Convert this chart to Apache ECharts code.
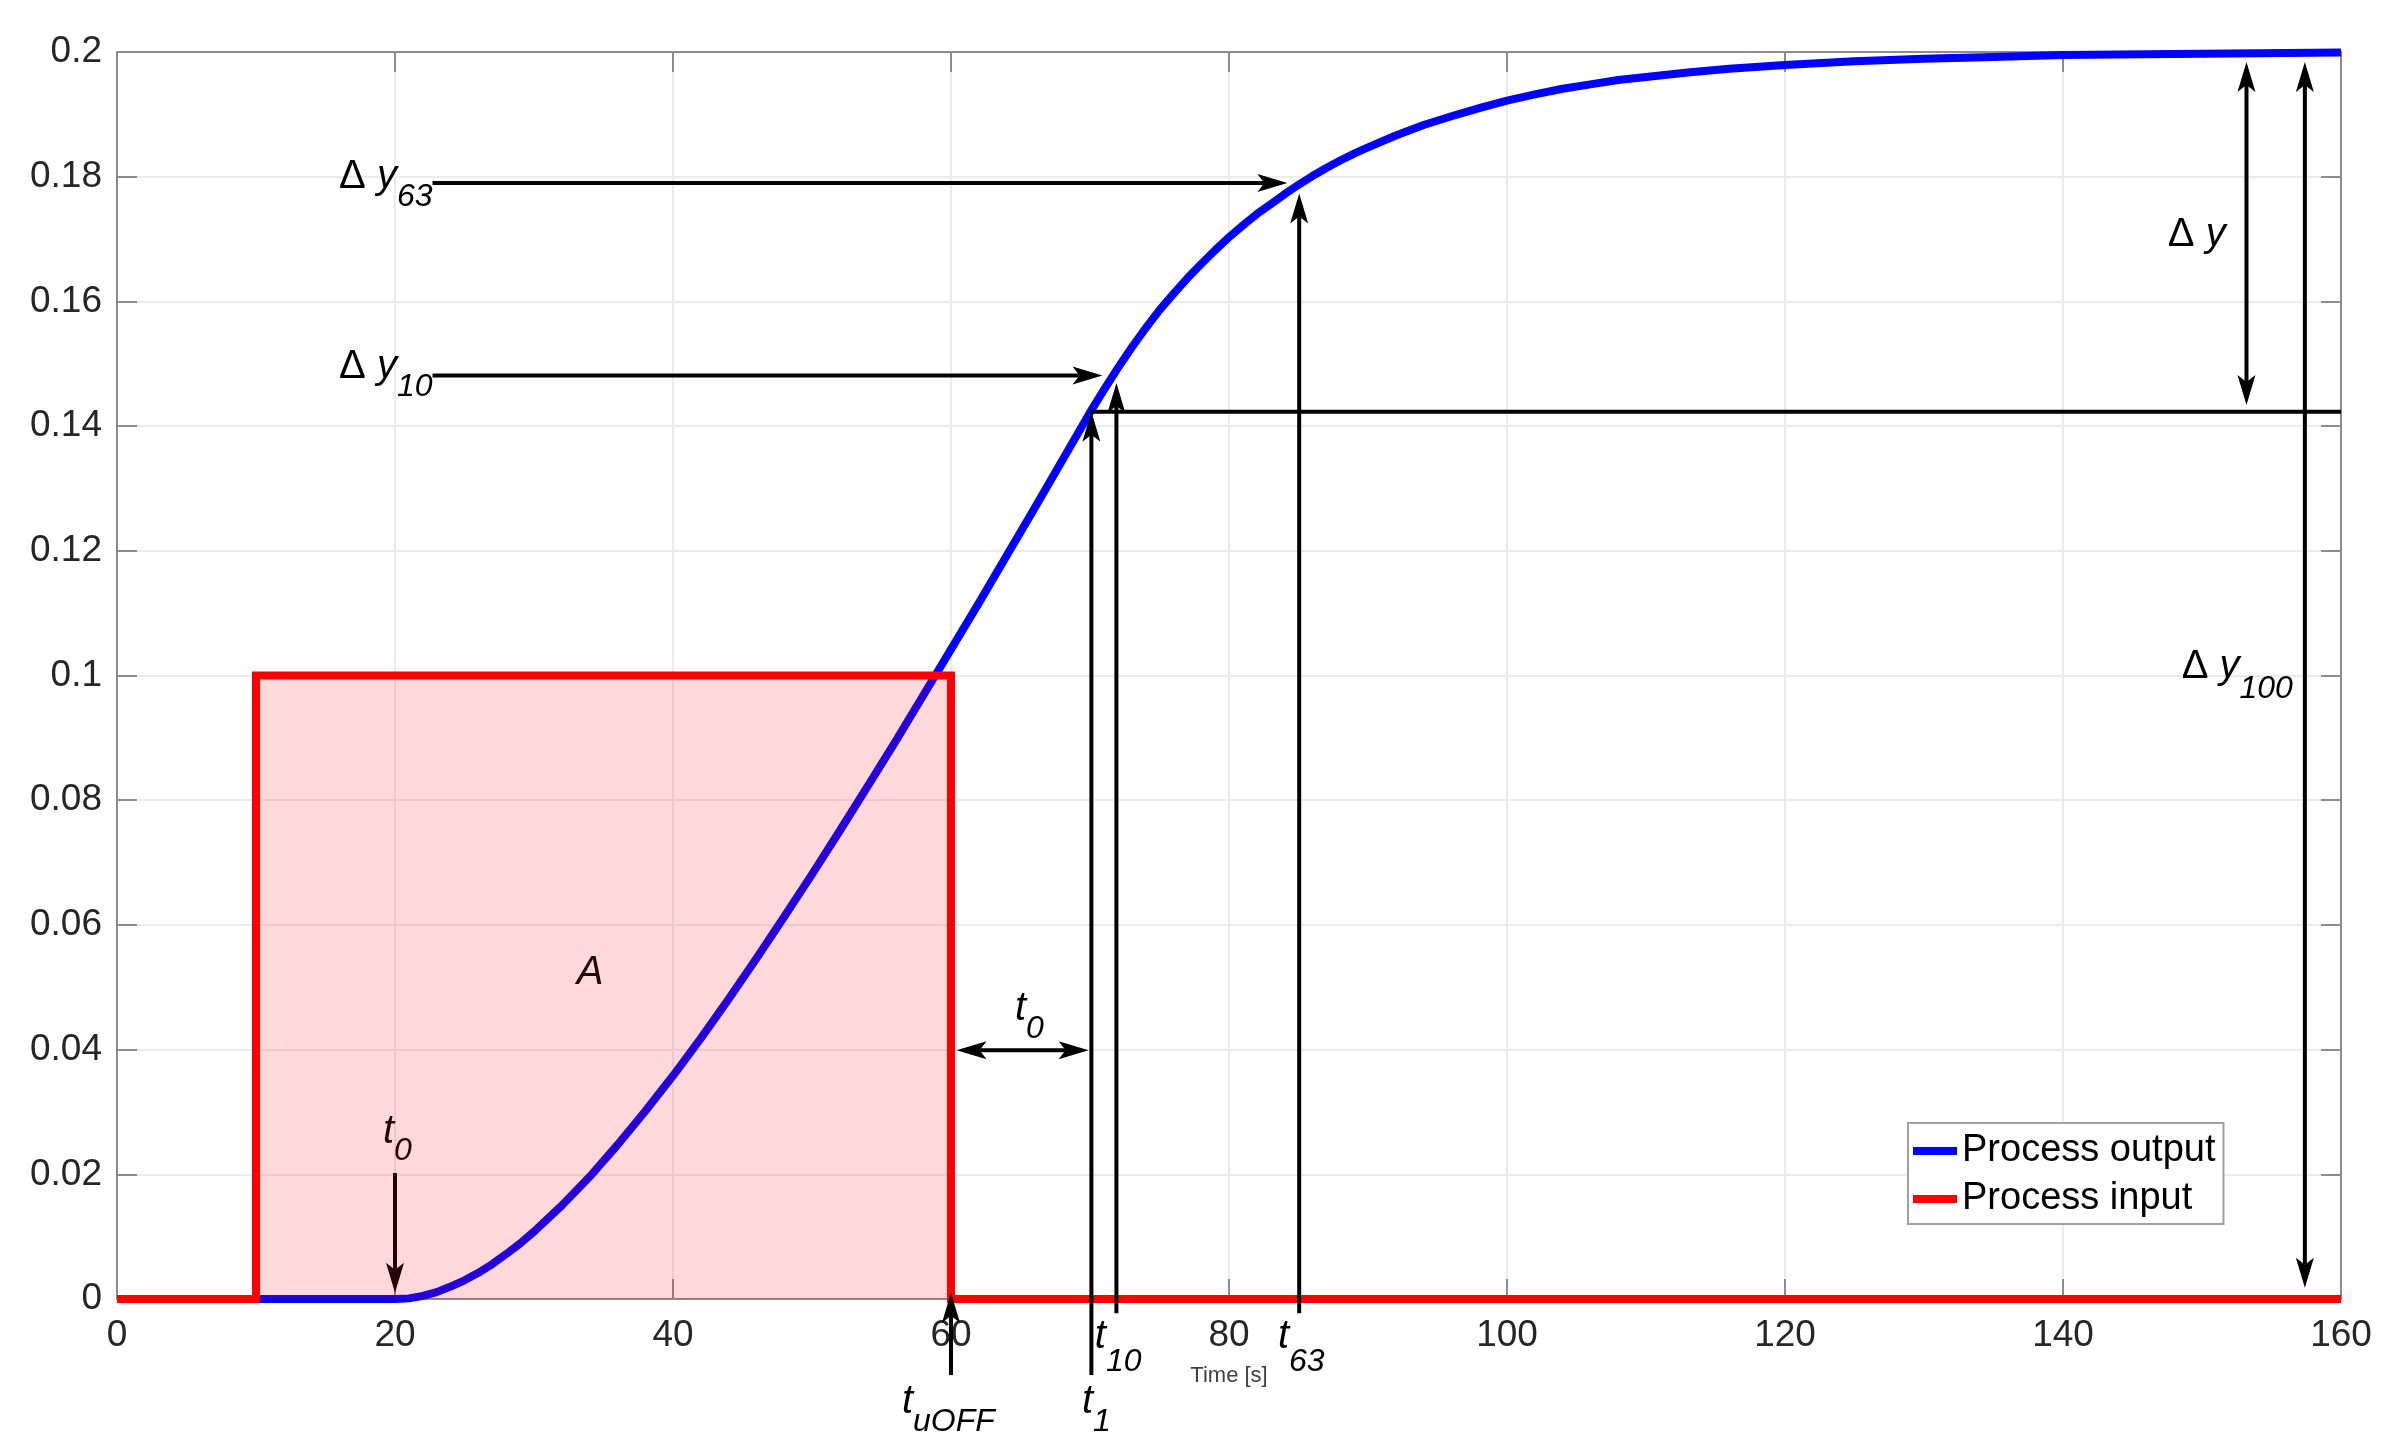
<!DOCTYPE html>
<html><head><meta charset="utf-8">
<script src="https://cdn.jsdelivr.net/npm/echarts@6/dist/echarts.min.js"></script>
<style>html,body{margin:0;padding:0;background:#fff}#c{width:2392px;height:1456px}</style>
</head><body><div id="c"></div>
<script>
// ---- data ----
const xTickLabels = ['0','20','40','60','80','100','120','140','160'];
const yTickLabels = ['0','0.02','0.04','0.06','0.08','0.1','0.12','0.14','0.16','0.18','0.2'];
const outputTime = [0,10,20,21,22,23,24,25,26,27,28,29,30,32,34,36,38,40,42,44,46,48,50,52,54,56,58,60,62,64,66,68,70,71,72,73,74,75,76,77,78,79,80,81,82,83,84,85,86,87,88,89,90,92,94,96,98,100,102,104,106,108,110,113,116,120,125,130,135,140,150,160];
const outputValue = [0,0,0,0.0001,0.0005,0.0011,0.002,0.003,0.0042,0.0056,0.0072,0.0089,0.0108,0.015,0.0196,0.0247,0.0301,0.0358,0.0418,0.0481,0.0546,0.0613,0.0681,0.0751,0.0822,0.0894,0.0968,0.1042,0.1116,0.1192,0.1268,0.1345,0.1422,0.1458,0.1493,0.1526,0.1557,0.1586,0.1612,0.1637,0.166,0.1682,0.1703,0.1722,0.174,0.1756,0.1772,0.1787,0.1801,0.1814,0.1826,0.1837,0.1847,0.1866,0.1883,0.1897,0.191,0.1922,0.1932,0.1941,0.1948,0.1955,0.196,0.1967,0.1973,0.1979,0.1985,0.1989,0.1992,0.1995,0.1997,0.1999];
const inputTime = [0,10,10,60,60,160];
const inputValue = [0,0,0.1,0.1,0,0];
const areaTime = [10,10,60,60];
const areaValue = [0,0.1,0.1,0];

// annotation arrows, in data units
const arrows = [
  {from:[22.7,0.179], to:[84.2,0.179], heads:'end'},
  {from:[22.7,0.1481], to:[70.9,0.1481], heads:'end'},
  {from:[70.1,-0.0122], to:[70.1,0.1423], heads:'end'},
  {from:[71.9,-0.0023], to:[71.9,0.1469], heads:'end'},
  {from:[85.05,-0.0023], to:[85.05,0.1773], heads:'end'},
  {from:[60,-0.0122], to:[60,0.001], heads:'end'},
  {from:[60.4,0.0399], to:[69.9,0.0399], heads:'both'},
  {from:[20,0.0202], to:[20,0.001], heads:'end', under:true},
  {from:[70,0.1423], to:[160,0.1423], heads:'none'},
  {from:[153.2,0.1434], to:[153.2,0.1984], heads:'both'},
  {from:[157.4,0.0018], to:[157.4,0.1984], heads:'both'}
];
// annotation labels: junction point (data units) between base and subscript
const labels = [
  {base:'delta', sub:'63', x:20.14, y:0.1800, sy:0.1767},
  {base:'delta', sub:'10', x:20.14, y:0.1495, sy:0.1463},
  {base:'delta', sub:'', x:151.7, y:0.1707, sy:0},
  {base:'delta', sub:'100', x:152.7, y:0.1014, sy:0.0978},
  {base:'t', sub:'0', x:19.93, y:0.0268, sy:0.0237, under:true},
  {base:'t', sub:'0', x:65.4, y:0.0466, sy:0.0433},
  {base:'t', sub:'uOFF', x:57.27, y:-0.01647, sy:-0.0197},
  {base:'t', sub:'1', x:70.22, y:-0.01647, sy:-0.0197},
  {base:'t', sub:'10', x:71.15, y:-0.00605, sy:-0.0101},
  {base:'t', sub:'63', x:84.32, y:-0.00605, sy:-0.0101},
  {base:'A', sub:'', x:34.03, y:0.0523, sy:0, center:true, under:true}
];

const FONT = '"Liberation Sans", Arial, Helvetica, sans-serif';
const zip = (a,b) => a.map((v,i)=>[v,b[i]]);
const fmtX = v => xTickLabels[Math.round(v/20)] ?? '';
const fmtY = v => yTickLabels[Math.round(v/0.02)] ?? '';
const axisGray = '#8c8c8c';

const chart = echarts.init(document.getElementById('c'));
const option = {
  animation: false,
  backgroundColor: '#fff',
  grid: {left:117, right:51, top:52, bottom:157, containLabel:false},
  xAxis: [
    {type:'value', min:0, max:160, interval:20, position:'bottom',
     axisLine:{show:true, onZero:false, lineStyle:{color:axisGray, width:2}},
     axisTick:{show:true, inside:true, length:20, lineStyle:{color:axisGray, width:2}},
     axisLabel:{fontSize:37, color:'#262626', fontFamily:FONT, margin:18, formatter:fmtX},
     splitLine:{show:true, lineStyle:{color:'#ebebeb', width:2}},
     name:'Time [s]', nameLocation:'middle', nameGap:66,
     nameTextStyle:{fontSize:22, color:'#404040', fontFamily:FONT}},
    {type:'value', min:0, max:160, interval:20, position:'top',
     axisLine:{show:true, onZero:false, lineStyle:{color:axisGray, width:2}},
     axisTick:{show:true, inside:true, length:20, lineStyle:{color:axisGray, width:2}},
     axisLabel:{show:false}, splitLine:{show:false}}
  ],
  yAxis: [
    {type:'value', min:0, max:0.2, interval:0.02, position:'left',
     axisLine:{show:true, onZero:false, lineStyle:{color:axisGray, width:2}},
     axisTick:{show:true, inside:true, length:20, lineStyle:{color:axisGray, width:2}},
     axisLabel:{fontSize:37, color:'#262626', fontFamily:FONT, margin:15, formatter:fmtY},
     splitLine:{show:true, lineStyle:{color:'#ebebeb', width:2}}},
    {type:'value', min:0, max:0.2, interval:0.02, position:'right',
     axisLine:{show:true, onZero:false, lineStyle:{color:axisGray, width:2}},
     axisTick:{show:true, inside:true, length:20, lineStyle:{color:axisGray, width:2}},
     axisLabel:{show:false}, splitLine:{show:false}}
  ],
  legend: {
    data:['Process output','Process input'], orient:'vertical',
    left:1908, top:1123, padding:[9,8,6,5], itemGap:10,
    itemWidth:44, itemHeight:8, icon:'rect', itemStyle:{borderWidth:0},
    backgroundColor:'#fff', borderColor:'#a0a0a0', borderWidth:2,
    textStyle:{fontSize:38, color:'#000', fontFamily:FONT, padding:[0,0,0,0]}
  },
  series: [
    {name:'Process output', type:'line', data:zip(outputTime, outputValue),
     showSymbol:false, symbol:'none', smooth:false,
     lineStyle:{color:'#0000ff', width:8, join:'round'}, itemStyle:{color:'#0000ff'}, z:2, clip:false},
    {name:'Process input', type:'line', data:zip(inputTime, inputValue),
     showSymbol:false, symbol:'none',
     lineStyle:{color:'#ff0000', width:8, join:'miter'}, itemStyle:{color:'#ff0000'}, z:3, clip:false},
    {name:'area', type:'line', data:zip(areaTime, areaValue), showSymbol:false, symbol:'none',
     lineStyle:{width:0, opacity:0}, areaStyle:{color:'rgba(255,0,0,0.15)', opacity:1},
     z:4, silent:true}
  ]
};
chart.setOption(option);

const px = p => chart.convertToPixel({xAxisIndex:0, yAxisIndex:0}, p);
const g = [];
const L = 30, W = 9, N = 7;
function head(tip, d, z, col) {
  const n = [-d[1], d[0]];
  const b = [tip[0]-L*d[0], tip[1]-L*d[1]];
  g.push({type:'polygon', z:z, silent:true, shape:{points:[
    tip, [b[0]+W*n[0], b[1]+W*n[1]], [tip[0]-(L-N)*d[0], tip[1]-(L-N)*d[1]], [b[0]-W*n[0], b[1]-W*n[1]]
  ]}, style:{fill:col}});
}
arrows.forEach(a => {
  const p1 = px(a.from), p2 = px(a.to);
  const len = Math.hypot(p2[0]-p1[0], p2[1]-p1[1]);
  const d = [(p2[0]-p1[0])/len, (p2[1]-p1[1])/len];
  const z = a.under ? 3 : 10;
  const col = '#000';
  let s = p1.slice(), e = p2.slice();
  if (a.heads === 'end' || a.heads === 'both') {
    e = [p2[0]-(L-N)*d[0], p2[1]-(L-N)*d[1]]; head(p2, d, z, col);
  }
  if (a.heads === 'both') {
    s = [p1[0]+(L-N)*d[0], p1[1]+(L-N)*d[1]]; head(p1, [-d[0],-d[1]], z, col);
  }
  g.push({type:'line', z:z, silent:true, shape:{x1:s[0], y1:s[1], x2:e[0], y2:e[1]},
    style:{stroke:col, lineWidth:4}});
});
labels.forEach(l => {
  const p = px([l.x, l.y]);
  const z = l.under ? 3 : 10;
  let text;
  if (l.base === 'delta') text = '{d|Δ} {i|y}';
  else if (l.base === 't') text = '{i|t}';
  else text = '{i|' + l.base + '}';
  const rich = {d:{fontSize:40, fontFamily:FONT, fontStyle:'normal', fill:'#000'},
          i:{fontSize:40, fontFamily:FONT, fontStyle:'italic', fill:'#000'}};
  g.push({type:'text', z:z, silent:true, x:p[0], y:p[1],
    style:{text:text, rich:rich, fontSize:40, fontFamily:FONT, fill:'#000',
      textAlign: l.center ? 'center' : 'right', textVerticalAlign:'middle'}});
  if (l.sub) {
    const q = px([l.x, l.sy]);
    g.push({type:'text', z:z, silent:true, x:q[0], y:q[1],
      style:{text:l.sub, fontSize:32, fontFamily:FONT, fontStyle:'italic', fill:'#000',
        textAlign:'left', textVerticalAlign:'middle'}});
  }
});
chart.setOption({graphic: g});
</script>
</body></html>
